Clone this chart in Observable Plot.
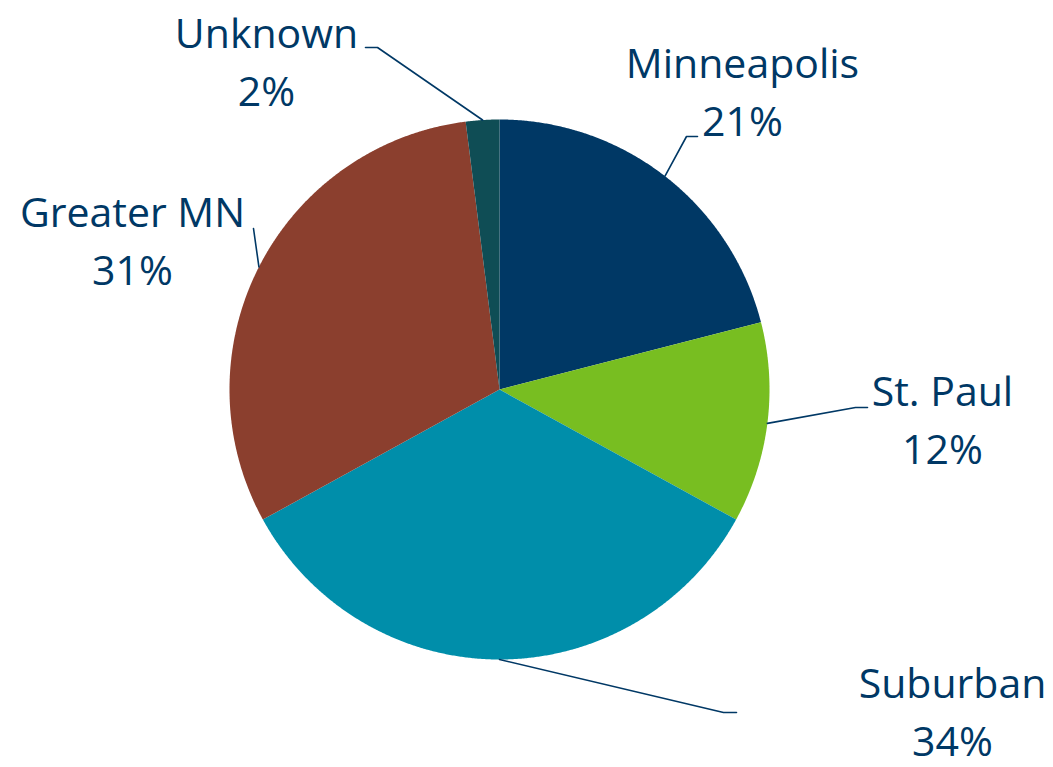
<!DOCTYPE html>
<html>
<head>
<meta charset="utf-8">
<script src="https://cdn.jsdelivr.net/npm/d3@7"></script>
<script src="https://cdn.jsdelivr.net/npm/@observablehq/plot@0.6"></script>
<style>
  html, body { margin: 0; padding: 0; background: #ffffff; }
  #chart { width: 1053px; height: 767px; }
</style>
</head>
<body>
<div id="chart"></div>
<script>
// ---- data ----
const categories = ["Minneapolis", "St. Paul", "Suburban", "Greater MN", "Unknown"];
const shares = [21, 12, 34, 31, 2];
const colors = ["#003865", "#78BE21", "#008EAA", "#8B3F2E", "#0F4D55"];

// ---- layout (pixel space) ----
const W = 1053, H = 767;
const cx = 499, cy = 389, R = 270;
const labelX = [742, 942, 952, 132, 266];
const labelY = [88, 416, 708, 237, 58];
const elbow = [[686, 136], [855, 407], [723, 712], [253, 228], [377, 47]];
const tail = [[697, 136], [867, 407], [736, 712], null, [365, 47]];
const textColor = "#003865";
const fontSize = 41;

const data = categories.map((c, i) => ({name: c, value: shares[i]}));
const arcs = d3.pie().sort(null).value(d => d.value)(data);
const pt = (a, r) => [cx + r * Math.sin(a), cy - r * Math.cos(a)];

const slicePts = [];
arcs.forEach(a => {
  const name = a.data.name;
  slicePts.push({name, x: cx, y: cy});
  const n = Math.max(4, Math.ceil((a.endAngle - a.startAngle) / 0.005));
  for (let k = 0; k <= n; k++) {
    const t = a.startAngle + (a.endAngle - a.startAngle) * k / n;
    const [x, y] = pt(t, R);
    slicePts.push({name, x, y});
  }
  slicePts.push({name, x: cx, y: cy});
});

const leaderPts = [];
arcs.forEach((a, i) => {
  const name = a.data.name;
  const [sx, sy] = pt((a.startAngle + a.endAngle) / 2, R);
  leaderPts.push({name, x: sx, y: sy});
  leaderPts.push({name, x: elbow[i][0], y: elbow[i][1]});
  if (tail[i]) leaderPts.push({name, x: tail[i][0], y: tail[i][1]});
});

const labels = arcs.map((a, i) => ({
  text: `${a.data.name}\n${a.data.value}%`,
  x: labelX[i], y: labelY[i]
}));

const chart = Plot.plot({
  width: W, height: H,
  margin: 0,
  x: {domain: [0, W], range: [0, W], axis: null},
  y: {domain: [0, H], range: [0, H], axis: null},
  color: {domain: categories, range: colors},
  style: {background: "#ffffff", fontFamily: "'Open Sans', sans-serif"},
  marks: [
    Plot.line(slicePts, {x: "x", y: "y", z: "name", fill: "name", stroke: "none", curve: "linear"}),
    Plot.line(leaderPts, {x: "x", y: "y", z: "name", stroke: textColor, strokeWidth: 1.6, curve: "linear"}),
    Plot.text(labels, {
      x: "x", y: "y", text: "text",
      fill: textColor, fontSize: fontSize, lineHeight: 1.4,
      textAnchor: "middle", lineAnchor: "middle",
      fontFamily: "'Open Sans', sans-serif"
    })
  ]
});
document.getElementById("chart").appendChild(chart);
</script>
</body>
</html>
